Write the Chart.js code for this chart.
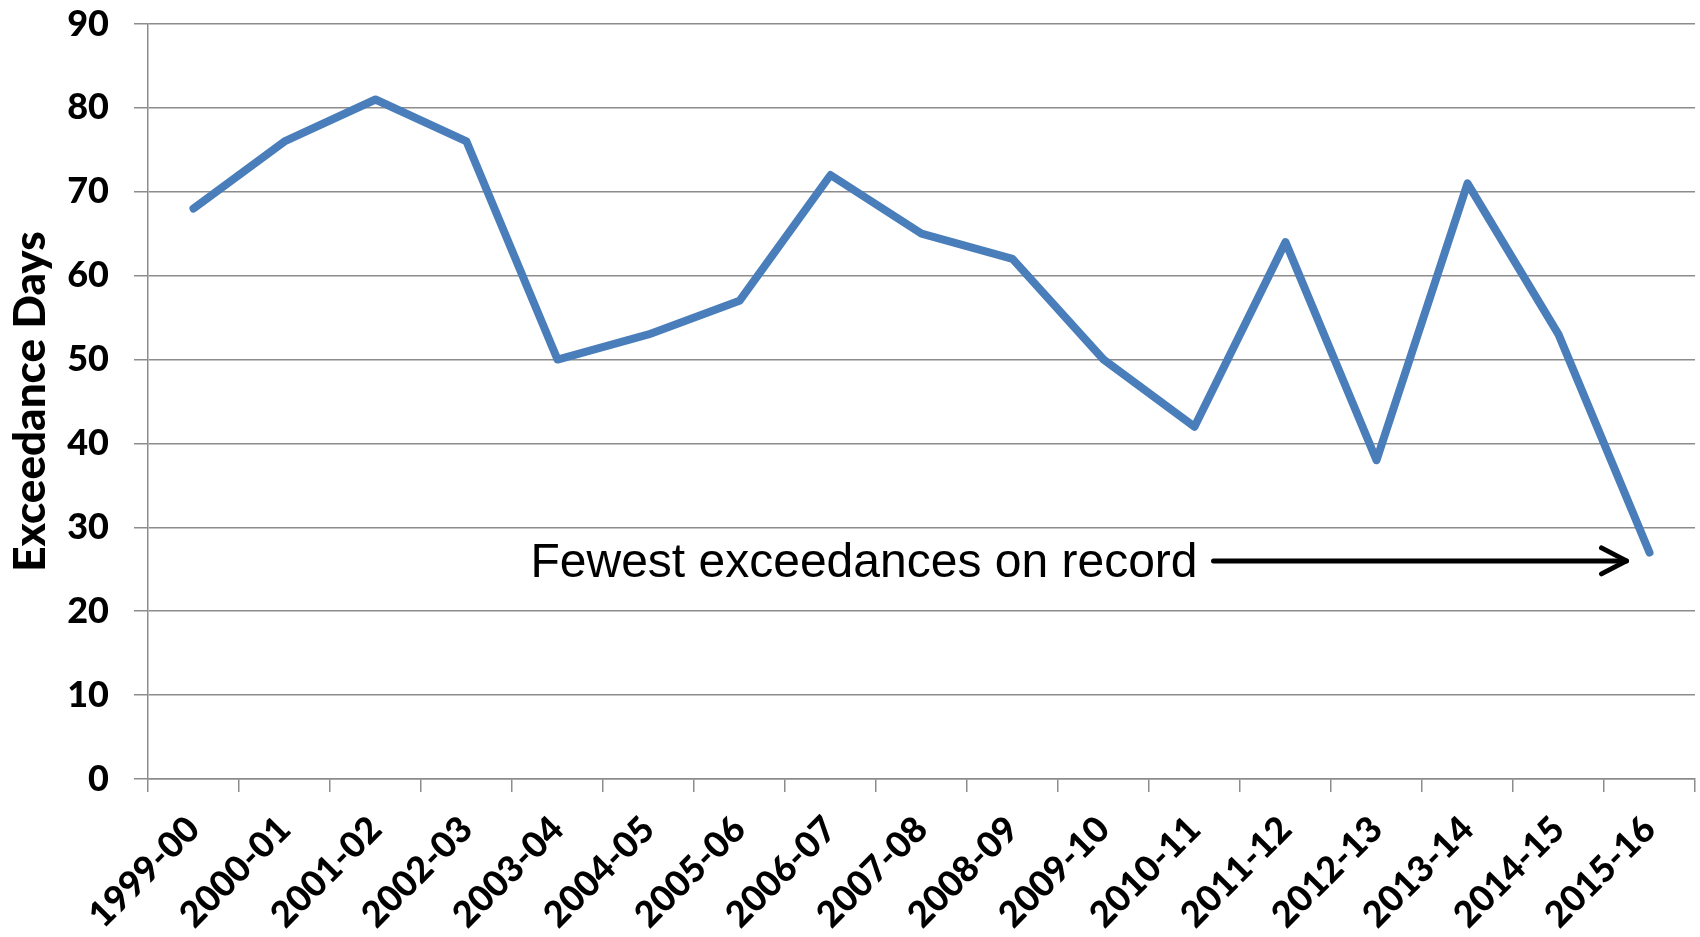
<!DOCTYPE html>
<html>
<head>
<meta charset="utf-8">
<script src="https://cdn.jsdelivr.net/npm/chart.js@4/dist/chart.umd.min.js"></script>
<style>
  html, body { margin: 0; padding: 0; background: #fff; }
  #wrap { width: 1700px; height: 937px; }
</style>
</head>
<body>
<div id="wrap"><canvas id="chart" width="1700" height="937"></canvas></div>
<script>
const seasons = ['1999-00','2000-01','2001-02','2002-03','2003-04','2004-05','2005-06','2006-07','2007-08',
                 '2008-09','2009-10','2010-11','2011-12','2012-13','2013-14','2014-15','2015-16'];
const exceedanceDays = [68, 76, 81, 76, 50, 53, 57, 72, 65, 62, 50, 42, 64, 38, 71, 53, 27];
const yTicks = [0, 10, 20, 30, 40, 50, 60, 70, 80, 90];
const noteText = 'Fewest exceedances on record';
const noteValue = 26;

const gridGrey = '#8c8c8c';
const tickFont = { family: 'Lato', weight: 900, size: 36 };

// arrow + label pointing at the last season
const notePlugin = {
    id: 'note',
    afterDatasetsDraw(chart) {
        const ctx = chart.ctx;
        const x = chart.scales.x, y = chart.scales.y;
        const lastX = x.getPixelForValue(seasons.length - 1);
        const yy = y.getPixelForValue(noteValue);
        const tipX = lastX - 23;
        const startX = tipX - 413;
        ctx.save();
        ctx.strokeStyle = '#000';
        ctx.lineWidth = 5;
        ctx.lineCap = 'round';
        ctx.lineJoin = 'round';
        ctx.beginPath();
        ctx.moveTo(startX, yy);
        ctx.lineTo(tipX, yy);
        ctx.stroke();
        ctx.beginPath();
        ctx.moveTo(tipX - 25, yy - 13);
        ctx.lineTo(tipX, yy);
        ctx.lineTo(tipX - 25, yy + 13);
        ctx.stroke();
        ctx.fillStyle = '#000';
        ctx.font = '48px "Liberation Sans", Arial, sans-serif';
        ctx.textAlign = 'right';
        ctx.textBaseline = 'middle';
        ctx.fillText(noteText, startX - 16, yy + 3);
        ctx.restore();
    }
};

new Chart(document.getElementById('chart'), {
    type: 'line',
    data: {
        labels: seasons,
        datasets: [{
            label: 'Exceedance Days',
            data: exceedanceDays,
            borderColor: '#4a7ebb',
            borderWidth: 8,
            borderCapStyle: 'round',
            borderJoinStyle: 'round',
            pointRadius: 0,
            tension: 0,
            fill: false
        }]
    },
    options: {
        responsive: false,
        animation: false,
        layout: { padding: { top: 24, right: 5, left: 0, bottom: 0 } },
        plugins: { legend: { display: false }, tooltip: { enabled: false } },
        scales: {
            x: {
                type: 'category',
                offset: true,
                grid: { offset: true, drawOnChartArea: false, drawTicks: true, tickLength: 13, color: gridGrey, lineWidth: 1.5 },
                border: { display: true, color: gridGrey, width: 1.5 },
                ticks: { color: '#000', font: tickFont, maxRotation: 45, minRotation: 45, autoSkip: false, padding: 16 },
                afterFit(scale) { scale.height = 158; }
            },
            y: {
                min: 0,
                max: 90,
                afterBuildTicks(scale) { scale.ticks = yTicks.map(v => ({ value: v })); },
                grid: { color: gridGrey, lineWidth: 1.5, tickLength: 14 },
                border: { display: true, color: gridGrey, width: 1.5 },
                ticks: { color: '#000', font: tickFont, padding: 25 },
                title: {
                    display: true,
                    text: 'Exceedance Days',
                    color: '#000',
                    font: { family: 'Lato', weight: 900, size: 44 },
                    padding: { top: 4, bottom: 0 }
                },
                afterFit(scale) {
                    scale.width = 148;
                    scale.paddingTop = 0;
                    scale.paddingBottom = 0;
                }
            }
        }
    },
    plugins: [notePlugin]
});
</script>
</body>
</html>
